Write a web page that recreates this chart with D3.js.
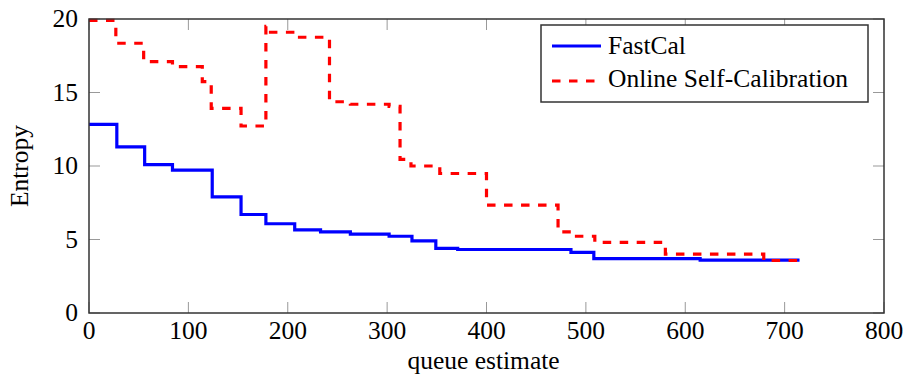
<!DOCTYPE html>
<meta charset="utf-8">
<style>
body { margin: 0; background: #fff; }
svg { display: block; }
svg text { font-family: 'Liberation Serif', 'Times New Roman', Times, 'DejaVu Serif', serif; fill: #000; font-size: 25.5px; }
</style>
<body>
<svg id="chart" width="906" height="380"></svg>
<script src="https://cdn.jsdelivr.net/npm/d3@7"></script>
<script>

// step points (x where each level starts, level value)
var fastcalX = [0, 28, 56, 84, 124, 153, 178, 207, 233, 263, 302, 325, 349, 371, 485, 508, 615, 715];
var fastcalY = [12.83, 11.3, 10.1, 9.72, 7.9, 6.7, 6.07, 5.65, 5.52, 5.36, 5.22, 4.9, 4.4, 4.32, 4.12, 3.7, 3.6, 3.6];

var onlineX = [0, 27, 55, 84, 114, 123, 153, 178, 181, 207, 236, 242, 263, 302, 313, 324, 353, 400, 472, 486, 509, 580, 679, 715];
var onlineY = [19.9, 18.35, 17.1, 16.76, 15.74, 13.92, 12.72, 19.5, 19.1, 18.76, 18.6, 14.37, 14.2, 14.05, 10.45, 10.0, 9.49, 7.34, 5.52, 5.22, 4.8, 4.0, 3.57, 3.57];

var xTicks = [0, 100, 200, 300, 400, 500, 600, 700, 800];
var yTicks = [0, 5, 10, 15, 20];
var seriesNames = ["FastCal", "Online Self-Calibration"];

var margin = {left: 89, right: 22, top: 19, bottom: 67};
var width = 906 - margin.left - margin.right,
    height = 380 - margin.top - margin.bottom;

var svg = d3.select("#chart");
var g = svg.append("g").attr("transform", "translate(" + margin.left + "," + margin.top + ")");

var x = d3.scaleLinear().domain([0, 800]).range([0, width]);
var y = d3.scaleLinear().domain([0, 20]).range([height, 0]);

var tickLen = 11;
// ticks (inward, all four sides)
xTicks.forEach(function(t) {
  g.append("line").attr("x1", x(t)).attr("x2", x(t)).attr("y1", height).attr("y2", height - tickLen)
    .attr("stroke", "#999").attr("stroke-width", 1);
  g.append("line").attr("x1", x(t)).attr("x2", x(t)).attr("y1", 0).attr("y2", tickLen)
    .attr("stroke", "#999").attr("stroke-width", 1);
  g.append("text").attr("x", x(t)).attr("y", height + 26).attr("text-anchor", "middle").text(t);
});
yTicks.forEach(function(t) {
  g.append("line").attr("x1", 0).attr("x2", tickLen).attr("y1", y(t)).attr("y2", y(t))
    .attr("stroke", "#999").attr("stroke-width", 1);
  g.append("line").attr("x1", width).attr("x2", width - tickLen).attr("y1", y(t)).attr("y2", y(t))
    .attr("stroke", "#999").attr("stroke-width", 1);
  g.append("text").attr("x", -11).attr("y", y(t)).attr("dy", "0.33em").attr("text-anchor", "end").text(t);
});

var line = d3.line()
  .x(function(d) { return x(d[0]); })
  .y(function(d) { return y(d[1]); })
  .curve(d3.curveStepAfter);

var fastcal = d3.zip(fastcalX, fastcalY);
var online = d3.zip(onlineX, onlineY);

g.append("path").datum(fastcal).attr("d", line)
  .attr("fill", "none").attr("stroke", "#0000ff").attr("stroke-width", 3.2);
g.append("path").datum(online).attr("d", line)
  .attr("fill", "none").attr("stroke", "#ff0000").attr("stroke-width", 3.2)
  .attr("stroke-dasharray", "8.5,8.5");

// frame
g.append("rect").attr("x", 0).attr("y", 0).attr("width", width).attr("height", height)
  .attr("fill", "none").attr("stroke", "#333").attr("stroke-width", 1.5);

// axis labels
svg.append("text").attr("x", margin.left + width / 2 - 3).attr("y", 369).attr("text-anchor", "middle")
  .text("queue estimate");
svg.append("text").attr("transform", "translate(28," + (margin.top + height / 2) + ") rotate(-90)")
  .attr("text-anchor", "middle").text("Entropy");

// legend
var lg = svg.append("g").attr("transform", "translate(541,25)");
lg.append("rect").attr("width", 327).attr("height", 77)
  .attr("fill", "#fff").attr("stroke", "#333").attr("stroke-width", 1.5);
lg.append("line").attr("x1", 11).attr("x2", 60).attr("y1", 21).attr("y2", 21)
  .attr("stroke", "#0000ff").attr("stroke-width", 3.2);
lg.append("line").attr("x1", 11).attr("x2", 60).attr("y1", 56).attr("y2", 56)
  .attr("stroke", "#ff0000").attr("stroke-width", 3.2).attr("stroke-dasharray", "8.5,8.5");
lg.selectAll("text.leg").data(seriesNames).enter().append("text").attr("class", "leg")
  .attr("x", 67).attr("y", function(d, i) { return 28.5 + i * 33.5; })
  .text(function(d) { return d; });

</script>
</body>
